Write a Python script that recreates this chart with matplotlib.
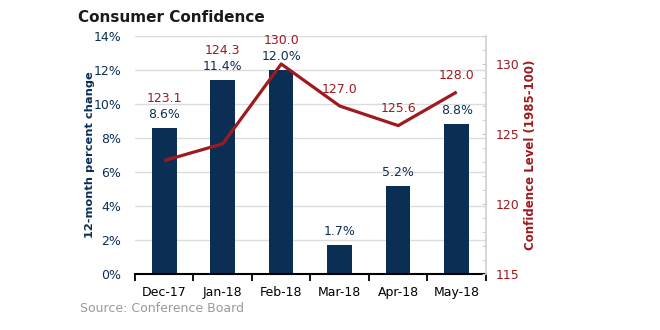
import matplotlib.pyplot as plt
from matplotlib.ticker import MultipleLocator, FuncFormatter
import numpy as np

months = ['Dec-17', 'Jan-18', 'Feb-18', 'Mar-18', 'Apr-18', 'May-18']
pct_change = [8.6, 11.4, 12.0, 1.7, 5.2, 8.8]          # 12-month percent change
confidence = [123.1, 124.3, 130.0, 127.0, 125.6, 128.0]  # index level (1985=100)

NAVY = '#0b2e55'
RED = '#9e1a1f'
plt.rcParams['font.family'] = ['DejaVu Sans']

fig = plt.figure(figsize=(6.6, 3.3), dpi=100)
ax = fig.add_axes([0.2045, 0.1697, 0.5318, 0.7212])
ax2 = ax.twinx()

x = np.arange(len(months))
L_MIN, L_MAX = 0, 14
R_MIN, R_MAX = 115, 132

ax.bar(x, pct_change, width=0.42, color=NAVY, zorder=3)
ax2.plot(x, confidence, color=RED, lw=2.3, solid_capstyle='butt', zorder=4)

ax.set_xlim(-0.5, len(months) - 0.5)
ax.set_ylim(L_MIN, L_MAX)
ax2.set_ylim(R_MIN, R_MAX)

# left axis
ax.yaxis.set_major_locator(MultipleLocator(2))
ax.yaxis.set_major_formatter(FuncFormatter(lambda v, p: f'{v:.0f}%'))
ax.grid(axis='y', color='#dcdcdc', lw=1, zorder=0)
ax.tick_params(axis='y', length=0, labelsize=9, colors=NAVY, pad=10)
ax.set_ylabel('12-month percent change', color=NAVY, fontsize=8.2,
              fontweight='bold', labelpad=-1)

# x axis with ticks on category boundaries
ax.set_xticks(x)
ax.set_xticklabels(months)
ax.set_xticks(np.arange(len(months) + 1) - 0.5, minor=True)
ax.tick_params(axis='x', which='major', length=0, labelsize=9, pad=9)
ax.tick_params(axis='x', which='minor', length=5, width=1.3, direction='out', color='black')
for s in ['top', 'left', 'right']:
    ax.spines[s].set_visible(False)
ax.spines['bottom'].set_linewidth(1.5)
ax.spines['bottom'].set_zorder(5)

# right axis
for s in ['top', 'left', 'bottom']:
    ax2.spines[s].set_visible(False)
ax2.spines['right'].set_color('#d0d0d0')
ax2.spines['right'].set_linewidth(1.2)
ax2.set_yticks(np.arange(R_MIN, 131, 5))
ax2.yaxis.set_minor_locator(MultipleLocator(1))
ax2.tick_params(axis='y', which='major', direction='in', length=3, color='#c8c8c8',
                labelsize=9, labelcolor=RED, pad=7)
ax2.tick_params(axis='y', which='minor', direction='in', length=3, color='#c8c8c8')
ax2.set_ylabel('Confidence Level (1985-100)', color=RED, fontsize=8.5,
               fontweight='bold', labelpad=3)

# data labels (placed in left-axis units)
scale = (L_MAX - L_MIN) / (R_MAX - R_MIN)
for i, (p, c) in enumerate(zip(pct_change, confidence)):
    bar_lab = p + 0.8
    ax.text(i, bar_lab, f'{p:.1f}%', ha='center', va='center', color=NAVY,
            fontsize=9, zorder=6)
    line_pt = (c - R_MIN) * scale
    line_lab = max(line_pt + 1.0, bar_lab + 0.95)
    ax.text(i, line_lab, f'{c:.1f}', ha='center', va='center', color=RED,
            fontsize=9, zorder=6)

fig.text(0.118, 0.948, 'Consumer Confidence', fontsize=11, fontweight='bold',
         ha='left', va='center', color='#1a1a1a')
fig.text(0.121, 0.064, 'Source: Conference Board', fontsize=9, color='#9a9a9a',
         ha='left', va='center')

fig.savefig('out.png', dpi=100)
